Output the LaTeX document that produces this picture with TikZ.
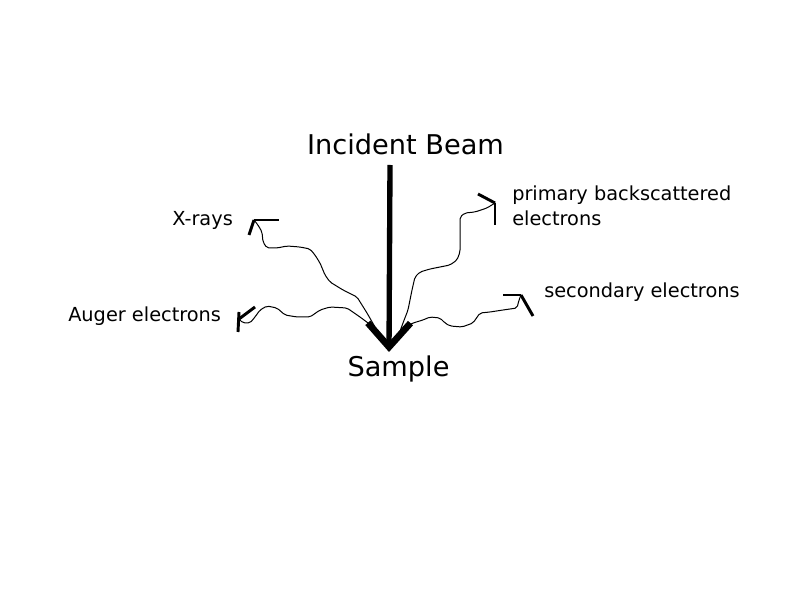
\documentclass[tikz,border=0pt]{standalone}
\usepackage{fontspec}
\setmainfont{DejaVu Sans}
\usetikzlibrary{arrows.meta}
\begin{document}
\begin{tikzpicture}[x=0.75pt,y=-0.75pt,
    big/.style={inner sep=0pt,anchor=base,font=\fontsize{20.4}{24}\selectfont},
    small/.style={inner sep=0pt,anchor=base west,font=\fontsize{14.5}{18.75}\selectfont},
    wave/.style={line width=0.75pt,rounded corners=1.5pt},
    head/.style={line width=2.2pt}]
  \useasboundingbox (0,0) rectangle (794,595);
  \draw
    (405.5,155) node[big] (beam){Incident Beam}
    (398.5,377) node[big] (sample){Sample}
    (172,226) node[small] (xrays){X-rays}
    (68,322) node[small] (auger){Auger electrons}
    (512,201) node[small] (primary){primary backscattered}
    (512,226) node[small] (primary2){electrons}
    (544,298) node[small] (secondary){secondary electrons};
  % beam
  \coordinate (top) at (390,165);
  \coordinate (hit) at (389,352);
  \draw[line width=4pt,-{Straight Barb[length=18pt,width=32pt,line width=5pt]}] (top) -- (hit);
  % sources and tips
  \coordinate (xsrc) at (375,327);
  \coordinate (asrc) at (372,326);
  \coordinate (psrc) at (399,334);
  \coordinate (ssrc) at (405,327);
  \coordinate (xtip) at (254,220);
  \coordinate (atip) at (239,319);
  \coordinate (ptip) at (495,203);
  \coordinate (stip) at (521,295);
  \begin{scope}[wave]
    \draw (xsrc) -- (367,313) -- (357,297) -- (343,290) -- (330,282) -- (325,275)
      -- (320,263) -- (315,255) -- (310,249) -- (300,247) -- (287,246) -- (277,248)
      -- (267,248) -- (263,242) -- (262,232) -- (258,225) -- (xtip);
    \draw (asrc) -- (360,317) -- (347,308) -- (330,307) -- (320,310) -- (310,317)
      -- (297,317) -- (285,315) -- (277,308) -- (267,306) -- (260,310) -- (255,317)
      -- (250,323) -- (243,323) -- (atip);
    \draw (psrc) -- (403,323) -- (408,310) -- (412,290) -- (415,277) -- (420,272)
      -- (430,269) -- (440,267) -- (450,265) -- (457,260) -- (460,252) -- (460,233)
      -- (460,217) -- (465,213) -- (475,212) -- (487,208) -- (ptip);
    \draw (ssrc) -- (413,323) -- (423,320) -- (430,317) -- (440,318) -- (445,323)
      -- (450,326) -- (462,327) -- (473,323) -- (480,313) -- (490,312) -- (503,310)
      -- (517,308) -- (519,300) -- (stip);
  \end{scope}
  % arrow heads
  \begin{scope}[head]
    \draw (xtip) -- (279,220);
    \draw (xtip) -- (249,235);
    \draw (239,312) -- (238,332);
    \draw (atip) -- (255,307);
    \draw (ptip) -- (478,194);
    \draw (ptip) -- (495,225);
    \draw (stip) -- (503,295);
    \draw (stip) -- (533,316);
  \end{scope}
\end{tikzpicture}
\end{document}
